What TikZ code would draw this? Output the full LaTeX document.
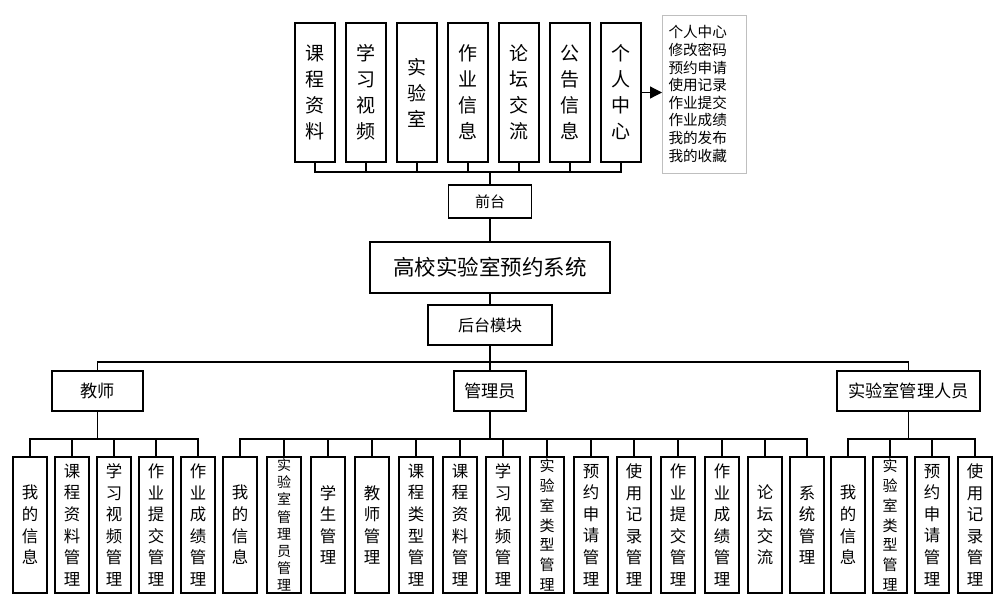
\documentclass[tikz,border=0pt]{standalone}
\usepackage{fontspec}
\setmainfont{Noto Sans CJK SC}
\usetikzlibrary{arrows.meta}

\begin{document}
\begin{tikzpicture}[x=0.5pt,y=-0.5pt,
    topbox/.style={draw,line width=0.75pt,inner sep=0,minimum width=20pt,minimum height=69.5pt,align=center,font=\fontsize{9.5}{13}\selectfont},
    subbox/.style={draw,line width=0.75pt,inner sep=0,minimum width=17pt,minimum height=68pt,align=center,font=\fontsize{8.2}{10.8}\selectfont},
    longbox/.style={subbox,font=\fontsize{7.5}{9.9}\selectfont},
    tightbox/.style={subbox,font=\fontsize{7}{8.6}\selectfont},
    rolebox/.style={draw,line width=0.75pt,inner sep=0,minimum height=20pt,font=\fontsize{8.6}{10}\selectfont},
    link/.style={line width=0.6pt}]
      \useasboundingbox (0,0) rectangle (1000,606);

      % front pages
      \node [topbox] (f1) at (315,92.5) {课\\程\\资\\料};
      \node [topbox] (f2) at (366,92.5) {学\\习\\视\\频};
      \node [topbox] (f3) at (417,92.5) {实\\验\\室};
      \node [topbox] (f4) at (468,92.5) {作\\业\\信\\息};
      \node [topbox] (f5) at (519,92.5) {论\\坛\\交\\流};
      \node [topbox] (f6) at (570,92.5) {公\\告\\信\\息};
      \node [topbox] (f7) at (621,92.5) {个\\人\\中\\心};
      \node [draw=gray!50,line width=0.5pt,text width=36pt,inner xsep=3pt,minimum height=79pt,align=left,font=\fontsize{7.3}{8.8}\selectfont] (plist) at (704.5,94)
        {个人中心\\修改密码\\预约申请\\使用记录\\作业提交\\作业成绩\\我的发布\\我的收藏};
      \draw [link,-{Triangle[length=6pt,width=6pt]}] (f7.east) -- (f7.east -| plist.west);

      \coordinate (fbus) at (490,172);
      \draw [link] (f1.south) |- (fbus);
      \draw [link] (f2.south) |- (fbus);
      \draw [link] (f3.south) |- (fbus);
      \draw [link] (f4.south) |- (fbus);
      \draw [link] (f5.south) |- (fbus);
      \draw [link] (f6.south) |- (fbus);
      \draw [link] (f7.south) |- (fbus);

      % spine
      \node [draw,line width=0.75pt,minimum width=41.5pt,minimum height=16.5pt,inner sep=0,font=\fontsize{7.5}{9}\selectfont] (qt) at (490,201.5) {前台};
      \node [draw,line width=0.75pt,minimum width=120pt,minimum height=25.5pt,inner sep=0,font=\fontsize{10.75}{12}\selectfont] (sys) at (490,267.5) {高校实验室预约系统};
      \node [draw,line width=0.75pt,minimum width=62pt,minimum height=20pt,inner sep=0,font=\fontsize{8}{10}\selectfont] (ht) at (490,325) {后台模块};
      \draw [link] (fbus)--(qt);
      \draw [link] (qt)--(sys);
      \draw [link] (sys)--(ht);

      % roles
      \node [rolebox,minimum width=45.5pt] (js) at (97.5,391) {教师};
      \node [rolebox,minimum width=36pt] (gly) at (490,391) {管理员};
      \node [rolebox,minimum width=71.5pt] (sy) at (908.5,391) {实验室管理人员};
      \coordinate (mbus) at (490,362);
      \draw [link] (ht.south) -- (mbus);
      \draw [link] (js.north) |- (mbus);
      \draw [link] (gly.north) -- (mbus);
      \draw [link] (sy.north) |- (mbus);

      % teacher
      \node [subbox] (t1) at (30,525) {我\\的\\信\\息};
      \node [subbox] (t2) at (72,525) {课\\程\\资\\料\\管\\理};
      \node [subbox] (t3) at (114,525) {学\\习\\视\\频\\管\\理};
      \node [subbox] (t4) at (156,525) {作\\业\\提\\交\\管\\理};
      \node [subbox] (t5) at (198,525) {作\\业\\成\\绩\\管\\理};
      \coordinate (tbus) at (97.5,439);
      \draw [link] (js.south) -- (tbus);
      \draw [link] (t1.north) |- (tbus);
      \draw [link] (t2.north) |- (tbus);
      \draw [link] (t3.north) |- (tbus);
      \draw [link] (t4.north) |- (tbus);
      \draw [link] (t5.north) |- (tbus);

      % admin
      \node [subbox] (a1) at (240,525) {我\\的\\信\\息};
      \node [tightbox] (a2) at (284,525) {实\\验\\室\\管\\理\\员\\管\\理};
      \node [subbox] (a3) at (328,525) {学\\生\\管\\理};
      \node [subbox] (a4) at (372,525) {教\\师\\管\\理};
      \node [subbox] (a5) at (416,525) {课\\程\\类\\型\\管\\理};
      \node [subbox] (a6) at (460,525) {课\\程\\资\\料\\管\\理};
      \node [subbox] (a7) at (503,525) {学\\习\\视\\频\\管\\理};
      \node [longbox] (a8) at (547,525) {实\\验\\室\\类\\型\\管\\理};
      \node [subbox] (a9) at (591,525) {预\\约\\申\\请\\管\\理};
      \node [subbox] (a10) at (634,525) {使\\用\\记\\录\\管\\理};
      \node [subbox] (a11) at (678,525) {作\\业\\提\\交\\管\\理};
      \node [subbox] (a12) at (722,525) {作\\业\\成\\绩\\管\\理};
      \node [subbox] (a13) at (765,525) {论\\坛\\交\\流};
      \node [subbox] (a14) at (807,525) {系\\统\\管\\理};
      \coordinate (abus) at (490,439);
      \draw [link] (gly.south) -- (abus);
      \draw [link] (a1.north) |- (abus);
      \draw [link] (a2.north) |- (abus);
      \draw [link] (a3.north) |- (abus);
      \draw [link] (a4.north) |- (abus);
      \draw [link] (a5.north) |- (abus);
      \draw [link] (a6.north) |- (abus);
      \draw [link] (a7.north) |- (abus);
      \draw [link] (a8.north) |- (abus);
      \draw [link] (a9.north) |- (abus);
      \draw [link] (a10.north) |- (abus);
      \draw [link] (a11.north) |- (abus);
      \draw [link] (a12.north) |- (abus);
      \draw [link] (a13.north) |- (abus);
      \draw [link] (a14.north) |- (abus);

      % lab manager
      \node [subbox] (l1) at (848,525) {我\\的\\信\\息};
      \node [longbox] (l2) at (890,525) {实\\验\\室\\类\\型\\管\\理};
      \node [subbox] (l3) at (932,525) {预\\约\\申\\请\\管\\理};
      \node [subbox] (l4) at (975,525) {使\\用\\记\\录\\管\\理};
      \coordinate (lbus) at (908.5,439);
      \draw [link] (sy.south) -- (lbus);
      \draw [link] (l1.north) |- (lbus);
      \draw [link] (l2.north) |- (lbus);
      \draw [link] (l3.north) |- (lbus);
      \draw [link] (l4.north) |- (lbus);
\end{tikzpicture}
\end{document}
